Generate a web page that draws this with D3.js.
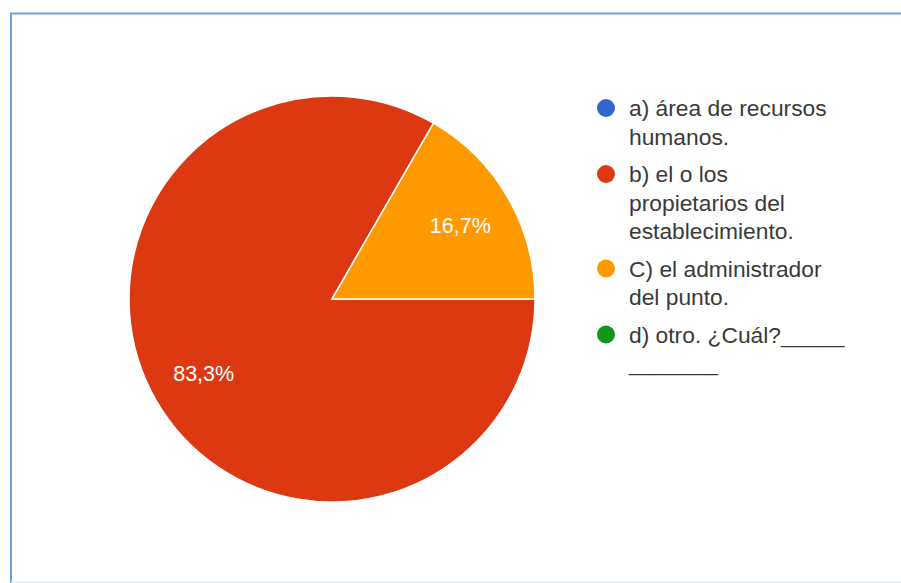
<!DOCTYPE html>
<html>
<head>
<meta charset="utf-8">
<script src="https://cdn.jsdelivr.net/npm/d3@7"></script>
<style>
  html, body { margin: 0; padding: 0; background: #ffffff; }
  svg { display: block; font-family: "Liberation Sans", Arial, sans-serif; }
</style>
</head>
<body>
<svg id="chart" width="901" height="583"></svg>
<script>
// Answer categories (legend text, line breaks as in the legend)
const categories = [
  "a) área de recursos\nhumanos.",
  "b) el o los\npropietarios del\nestablecimiento.",
  "C) el administrador\ndel punto.",
  "d) otro. ¿Cuál?_____\n_______"
];
// Number of responses per category
const responses = [0, 5, 1, 0];
// Slice colours
const colors = ["#3366cc", "#dc3912", "#ff9900", "#109618"];

const svg = d3.select("#chart");
const W = 901, H = 583;

// Frame
svg.append("line").attr("x1", 10).attr("x2", W).attr("y1", 13.5).attr("y2", 13.5)
  .attr("stroke", "#6fa3dc").attr("stroke-width", 2);
svg.append("line").attr("x1", 11).attr("x2", 11).attr("y1", 13).attr("y2", H)
  .attr("stroke", "#6fa3dc").attr("stroke-width", 2);
svg.append("line").attr("x1", 11).attr("x2", W).attr("y1", 582).attr("y2", 582)
  .attr("stroke", "#e3e8ec").attr("stroke-width", 1.5);

// Pie
const cx = 332, cy = 299, R = 203;
const total = d3.sum(responses);
const pie = d3.pie().sort(null).value(d => d)
  .startAngle(Math.PI / 2).endAngle(Math.PI / 2 + 2 * Math.PI);
const arcs = pie(responses);
const arc = d3.arc().innerRadius(0).outerRadius(R);
const labelArc = d3.arc().innerRadius(R * 0.73).outerRadius(R * 0.73);

const g = svg.append("g").attr("transform", `translate(${cx},${cy})`);
g.selectAll("path.slice")
  .data(arcs.filter(d => d.value > 0))
  .join("path")
  .attr("class", "slice")
  .attr("d", arc)
  .attr("fill", d => colors[d.index])
  .attr("stroke", "#ffffff")
  .attr("stroke-width", 1.5);

const pct = v => d3.format(".1f")(v * 100).replace(".", ",") + "%";
g.selectAll("text.pct")
  .data(arcs.filter(d => d.value > 0))
  .join("text")
  .attr("class", "pct")
  .attr("transform", d => `translate(${labelArc.centroid(d)})`)
  .attr("text-anchor", "middle")
  .attr("dy", "0.36em")
  .attr("fill", "#ffffff")
  .attr("font-size", 21.5)
  .text(d => pct(d.value / total));

// Legend
const lineH = 28.5, itemGap = 9;
let y = 108;
const legend = svg.append("g");
categories.forEach((label, i) => {
  const lines = label.split("\n");
  const item = legend.append("g");
  item.append("circle").attr("cx", 606).attr("cy", y).attr("r", 9)
    .attr("fill", colors[i]);
  const t = item.append("text").attr("font-size", 22.8).attr("fill", "#3a3a3a");
  lines.forEach((ln, j) => {
    t.append("tspan").attr("x", 629).attr("y", y + j * lineH)
      .attr("dy", "0.36em").text(ln);
  });
  y += lines.length * lineH + itemGap;
});
</script>
</body>
</html>
